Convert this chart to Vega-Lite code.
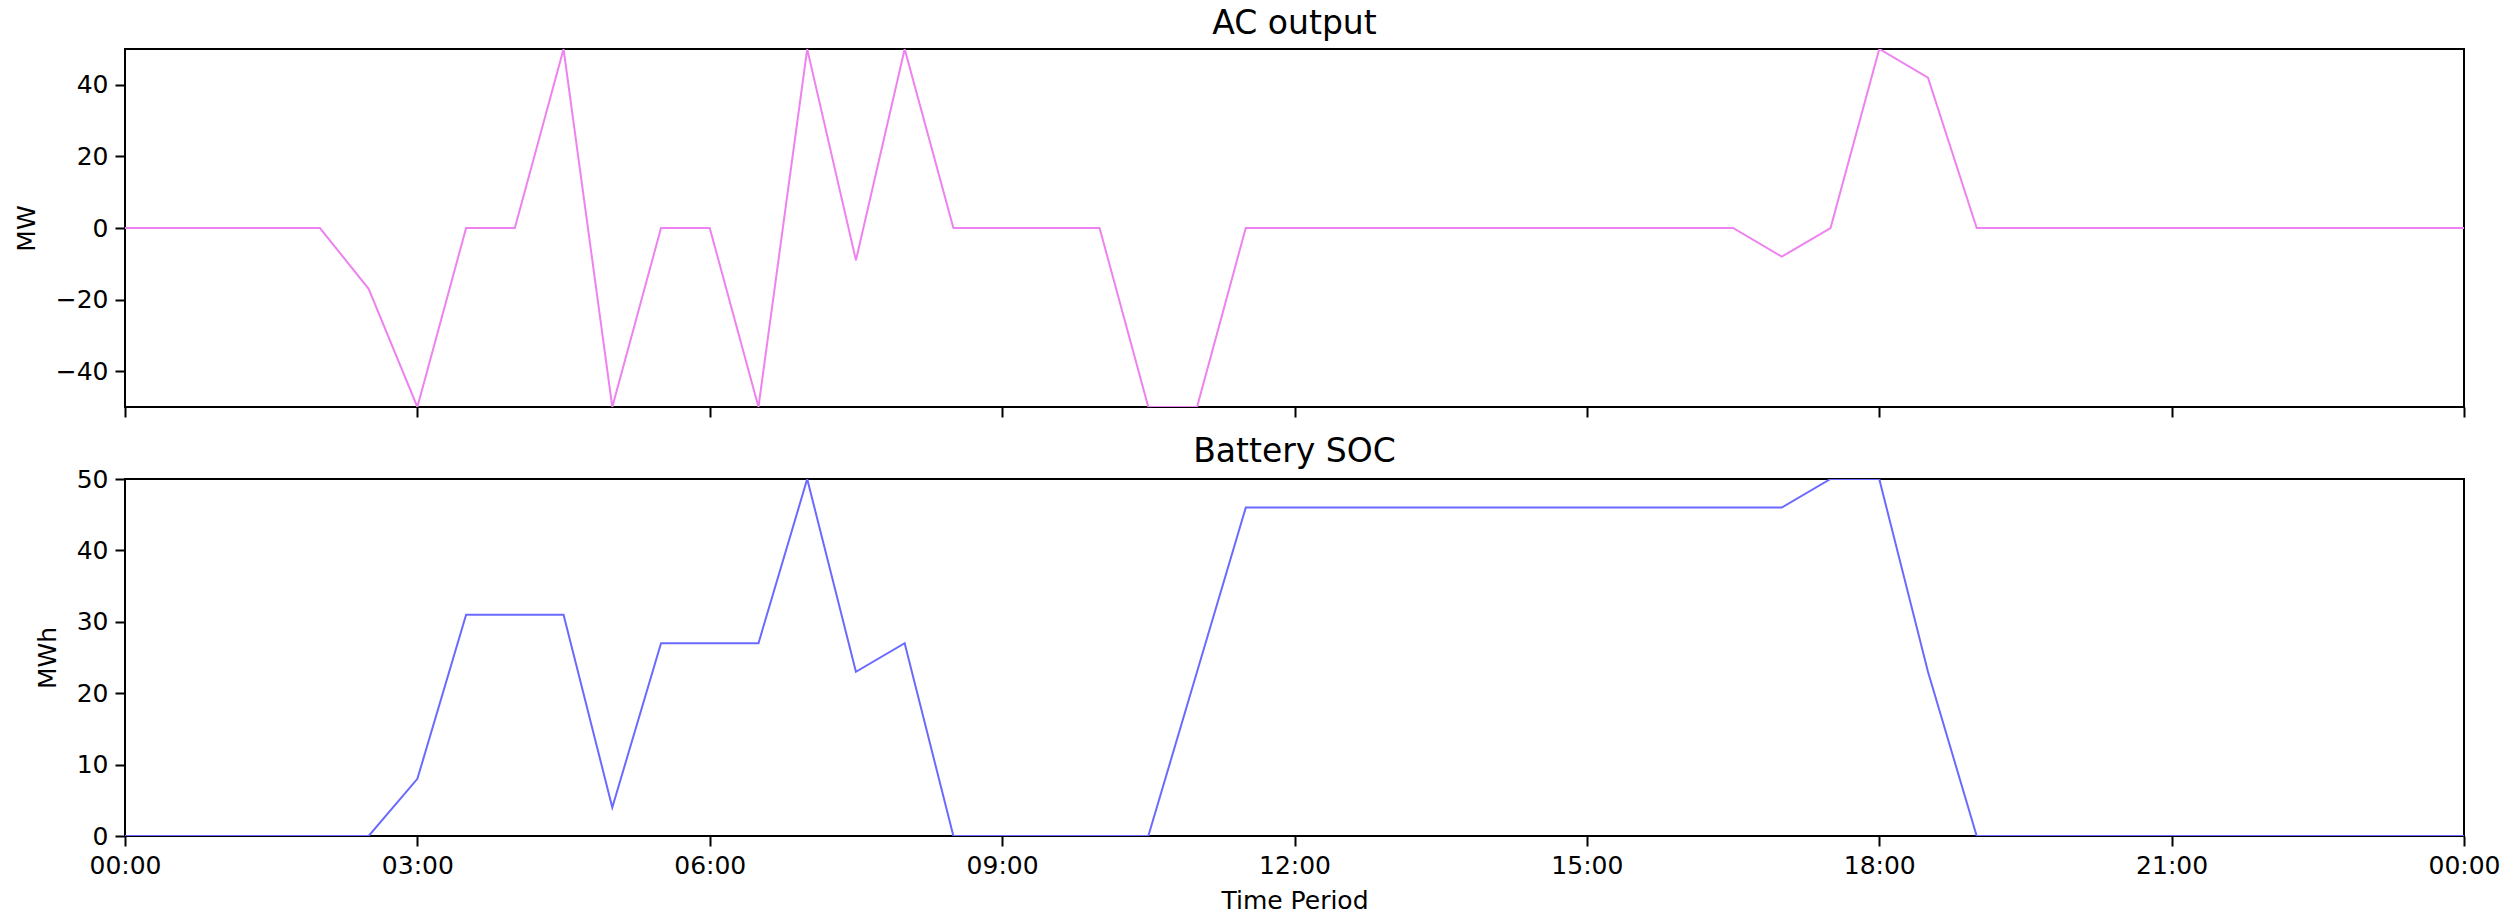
{
  "$schema": "https://vega.github.io/schema/vega-lite/v6.json",
  "background": "white",
  "padding": {"left": 13, "top": 7, "right": 4, "bottom": 6},
  "config": {
    "font": "DejaVu Sans",
    "view": {"stroke": "black", "strokeWidth": 2},
    "axis": {
      "grid": false, "domain": false,
      "tickColor": "black", "tickWidth": 2, "tickSize": 10,
      "labelFont": "DejaVu Sans", "labelFontSize": 25, "labelColor": "black", "labelPadding": 7,
      "titleFont": "DejaVu Sans", "titleFontSize": 25, "titleFontWeight": "normal", "titleColor": "black"
    },
    "axisX": {"titlePadding": 10},
    "axisY": {"titlePadding": 16},
    "title": {"font": "DejaVu Sans", "fontSize": 33, "fontWeight": "normal", "color": "black", "offset": 0},
    "concat": {"spacing": 16}
  },
  "data": {
    "values": [
      {"time": "2021-01-01T00:00:00Z", "ac": 0, "soc": 0},
      {"time": "2021-01-01T00:30:00Z", "ac": 0, "soc": 0},
      {"time": "2021-01-01T01:00:00Z", "ac": 0, "soc": 0},
      {"time": "2021-01-01T01:30:00Z", "ac": 0, "soc": 0},
      {"time": "2021-01-01T02:00:00Z", "ac": 0, "soc": 0},
      {"time": "2021-01-01T02:30:00Z", "ac": -17, "soc": 0},
      {"time": "2021-01-01T03:00:00Z", "ac": -50, "soc": 8},
      {"time": "2021-01-01T03:30:00Z", "ac": 0, "soc": 31},
      {"time": "2021-01-01T04:00:00Z", "ac": 0, "soc": 31},
      {"time": "2021-01-01T04:30:00Z", "ac": 50, "soc": 31},
      {"time": "2021-01-01T05:00:00Z", "ac": -50, "soc": 4},
      {"time": "2021-01-01T05:30:00Z", "ac": 0, "soc": 27},
      {"time": "2021-01-01T06:00:00Z", "ac": 0, "soc": 27},
      {"time": "2021-01-01T06:30:00Z", "ac": -50, "soc": 27},
      {"time": "2021-01-01T07:00:00Z", "ac": 50, "soc": 50},
      {"time": "2021-01-01T07:30:00Z", "ac": -9, "soc": 23},
      {"time": "2021-01-01T08:00:00Z", "ac": 50, "soc": 27},
      {"time": "2021-01-01T08:30:00Z", "ac": 0, "soc": 0},
      {"time": "2021-01-01T09:00:00Z", "ac": 0, "soc": 0},
      {"time": "2021-01-01T09:30:00Z", "ac": 0, "soc": 0},
      {"time": "2021-01-01T10:00:00Z", "ac": 0, "soc": 0},
      {"time": "2021-01-01T10:30:00Z", "ac": -50, "soc": 0},
      {"time": "2021-01-01T11:00:00Z", "ac": -50, "soc": 23},
      {"time": "2021-01-01T11:30:00Z", "ac": 0, "soc": 46},
      {"time": "2021-01-01T12:00:00Z", "ac": 0, "soc": 46},
      {"time": "2021-01-01T12:30:00Z", "ac": 0, "soc": 46},
      {"time": "2021-01-01T13:00:00Z", "ac": 0, "soc": 46},
      {"time": "2021-01-01T13:30:00Z", "ac": 0, "soc": 46},
      {"time": "2021-01-01T14:00:00Z", "ac": 0, "soc": 46},
      {"time": "2021-01-01T14:30:00Z", "ac": 0, "soc": 46},
      {"time": "2021-01-01T15:00:00Z", "ac": 0, "soc": 46},
      {"time": "2021-01-01T15:30:00Z", "ac": 0, "soc": 46},
      {"time": "2021-01-01T16:00:00Z", "ac": 0, "soc": 46},
      {"time": "2021-01-01T16:30:00Z", "ac": 0, "soc": 46},
      {"time": "2021-01-01T17:00:00Z", "ac": -8, "soc": 46},
      {"time": "2021-01-01T17:30:00Z", "ac": 0, "soc": 50},
      {"time": "2021-01-01T18:00:00Z", "ac": 50, "soc": 50},
      {"time": "2021-01-01T18:30:00Z", "ac": 42, "soc": 23},
      {"time": "2021-01-01T19:00:00Z", "ac": 0, "soc": 0},
      {"time": "2021-01-01T19:30:00Z", "ac": 0, "soc": 0},
      {"time": "2021-01-01T20:00:00Z", "ac": 0, "soc": 0},
      {"time": "2021-01-01T20:30:00Z", "ac": 0, "soc": 0},
      {"time": "2021-01-01T21:00:00Z", "ac": 0, "soc": 0},
      {"time": "2021-01-01T21:30:00Z", "ac": 0, "soc": 0},
      {"time": "2021-01-01T22:00:00Z", "ac": 0, "soc": 0},
      {"time": "2021-01-01T22:30:00Z", "ac": 0, "soc": 0},
      {"time": "2021-01-01T23:00:00Z", "ac": 0, "soc": 0},
      {"time": "2021-01-01T23:30:00Z", "ac": 0, "soc": 0},
      {"time": "2021-01-02T00:00:00Z", "ac": 0, "soc": 0}
    ]
  },
  "vconcat": [
    {
      "title": {"text": "AC output", "dy": -4},
      "width": 2339,
      "height": 358,
      "mark": {"type": "line", "color": "#ee82ee", "strokeWidth": 2, "clip": true},
      "encoding": {
        "x": {
          "field": "time", "type": "temporal",
          "scale": {"type": "utc", "domain": [1609459200000, 1609545600000], "nice": false},
          "axis": {"labels": false, "title": null, "values": [1609459200000, 1609470000000, 1609480800000, 1609491600000, 1609502400000, 1609513200000, 1609524000000, 1609534800000, 1609545600000]}
        },
        "y": {
          "field": "ac", "type": "quantitative",
          "scale": {"domain": [-50, 50], "nice": false, "zero": false},
          "axis": {"title": "MW", "values": [-40, -20, 0, 20, 40]}
        }
      }
    },
    {
      "title": {"text": "Battery SOC", "dy": 6},
      "width": 2339,
      "height": 357,
      "mark": {"type": "line", "color": "#6a6aff", "strokeWidth": 2, "clip": true},
      "encoding": {
        "x": {
          "field": "time", "type": "temporal",
          "scale": {"type": "utc", "domain": [1609459200000, 1609545600000], "nice": false},
          "axis": {"title": "Time Period", "format": "%H:%M", "values": [1609459200000, 1609470000000, 1609480800000, 1609491600000, 1609502400000, 1609513200000, 1609524000000, 1609534800000, 1609545600000], "labelFlush": false, "labelOverlap": false}
        },
        "y": {
          "field": "soc", "type": "quantitative",
          "scale": {"domain": [0, 50], "nice": false},
          "axis": {"title": "MWh", "values": [0, 10, 20, 30, 40, 50]}
        }
      }
    }
  ]
}
